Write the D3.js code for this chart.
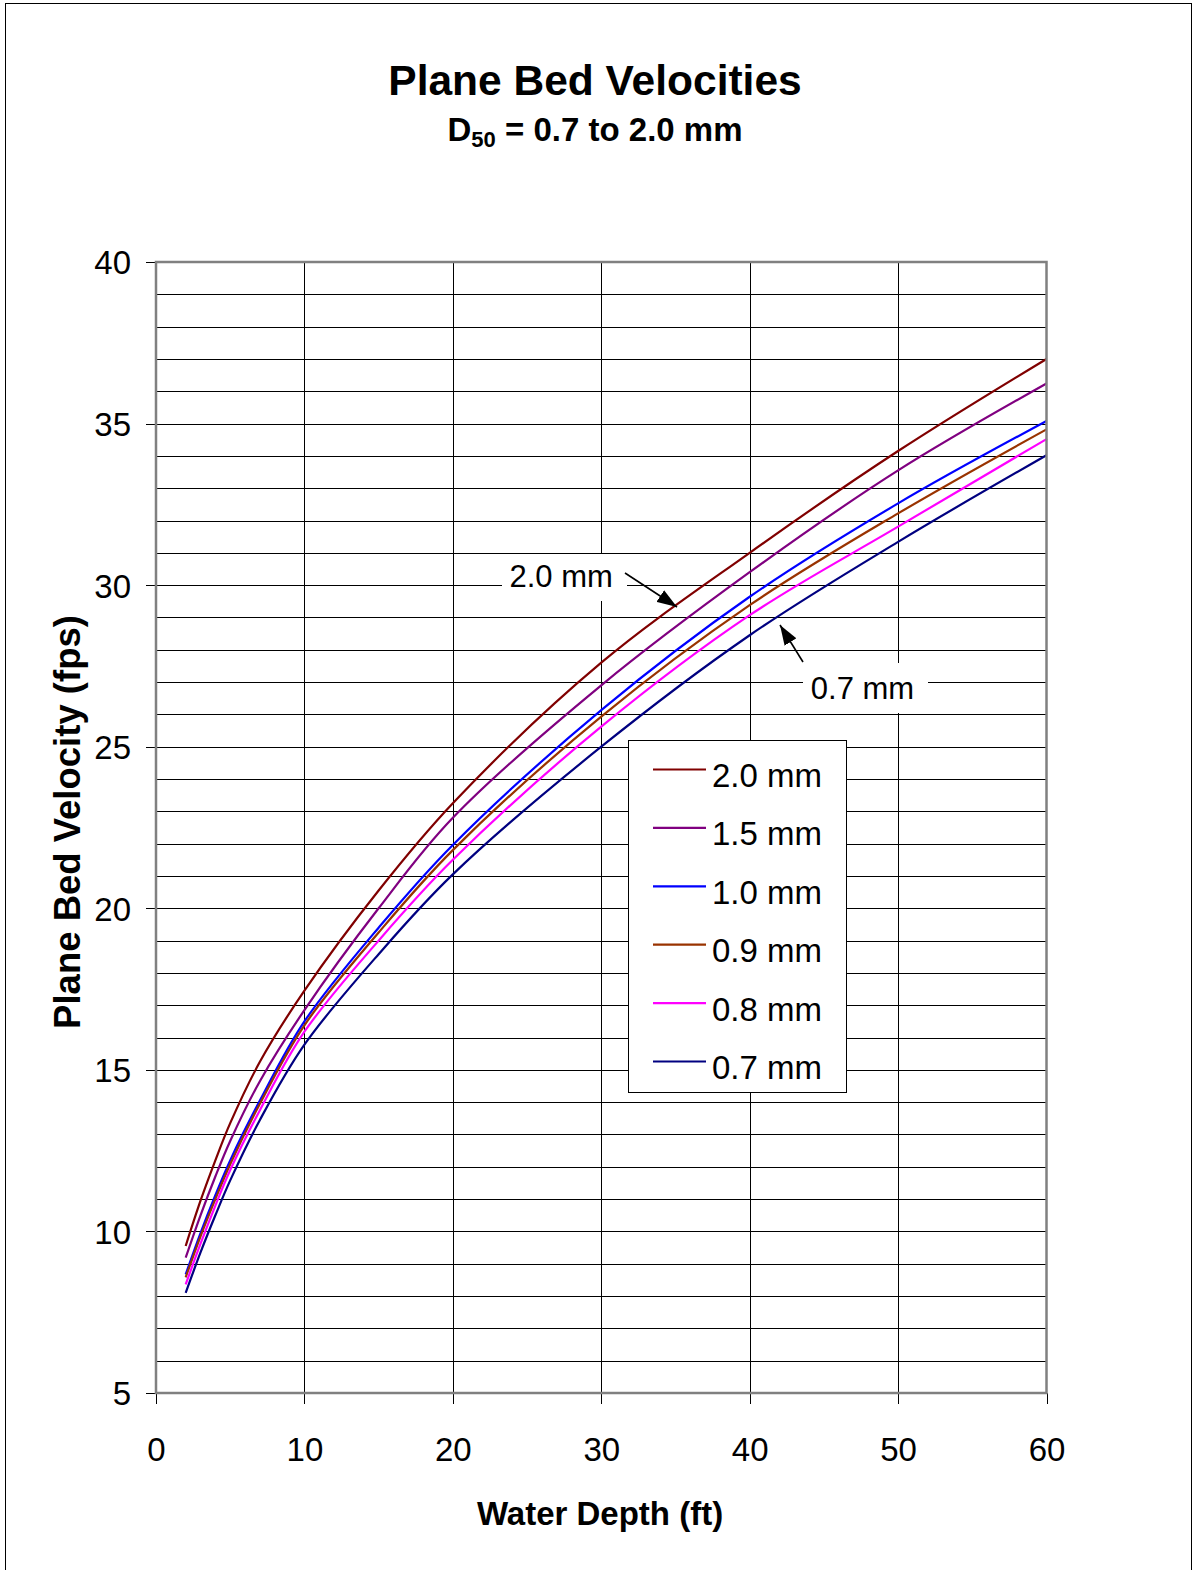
<!DOCTYPE html>
<html>
<head>
<meta charset="utf-8">
<script src="https://cdn.jsdelivr.net/npm/d3@7.9.0/dist/d3.min.js"></script>
<style>
  html, body { margin: 0; padding: 0; background: #fff; }
  svg { display: block; font-family: "Liberation Sans", Arial, sans-serif; }
</style>
</head>
<body>
<svg id="chart" width="1193" height="1570"></svg>
<script>
const depths = [2, 3, 4, 5, 7, 10, 15, 20, 30, 40, 50, 60];

const v20mm = [9.55, 10.95, 12.2, 13.35, 15.25, 17.45, 20.55, 23.25, 27.6, 31.0, 34.15, 37.0];
const v15mm = [9.19, 10.5, 11.7, 12.8, 14.65, 16.85, 20.0, 22.8, 26.9, 30.4, 33.55, 36.24];
const v10mm = [8.67, 9.95, 11.12, 12.2, 14.05, 16.5, 19.4, 21.96, 26.13, 29.64, 32.53, 35.08];
const v09mm = [8.58, 9.85, 11.0, 12.08, 13.95, 16.38, 19.25, 21.8, 25.93, 29.38, 32.22, 34.82];
const v08mm = [8.36, 9.62, 10.8, 11.9, 13.75, 16.18, 19.0, 21.5, 25.62, 29.07, 31.81, 34.52];
const v07mm = [8.1, 9.35, 10.5, 11.58, 13.45, 15.78, 18.58, 21.05, 25.0, 28.45, 31.34, 34.02];

const seriesNames = ['2.0 mm', '1.5 mm', '1.0 mm', '0.9 mm', '0.8 mm', '0.7 mm'];
const seriesValues = [v20mm, v15mm, v10mm, v09mm, v08mm, v07mm];
const seriesColors = ['#800000', '#800080', '#0000ff', '#993300', '#ff00ff', '#000080'];

const xTicks = [0, 10, 20, 30, 40, 50, 60];
const yTicks = [5, 10, 15, 20, 25, 30, 35, 40];

const svg = d3.select('#chart');

// outer frame
svg.append('rect')
  .attr('x', 5.5).attr('y', 3.5)
  .attr('width', 1186).attr('height', 1600)
  .attr('fill', '#fff').attr('stroke', '#000').attr('stroke-width', 1);

const x = d3.scaleLinear().domain([0, 60]).range([156, 1046.5]);
const y = d3.scaleLinear().domain([5, 40]).range([1393, 262]);

// gridlines
const grid = svg.append('g').attr('shape-rendering', 'crispEdges');
grid.selectAll('line.h')
  .data(d3.range(6, 40))
  .join('line')
  .attr('x1', x(0)).attr('x2', x(60))
  .attr('y1', (d) => Math.round(y(d)) + 0.5).attr('y2', (d) => Math.round(y(d)) + 0.5)
  .attr('stroke', '#000').attr('stroke-width', 1);
grid.selectAll('line.v')
  .data([10, 20, 30, 40, 50])
  .join('line')
  .attr('y1', y(5)).attr('y2', y(40))
  .attr('x1', (d) => Math.round(x(d)) + 0.5).attr('x2', (d) => Math.round(x(d)) + 0.5)
  .attr('stroke', '#000').attr('stroke-width', 1);

// axes with ticks
const yAxis = d3.axisLeft(y).tickValues(yTicks).tickSize(10).tickPadding(15);
const xAxis = d3.axisBottom(x).tickValues(xTicks).tickSize(11).tickPadding(32);

const gy = svg.append('g').attr('transform', `translate(${x(0)},0)`).call(yAxis);
const gx = svg.append('g').attr('transform', `translate(0,${y(5)})`).call(xAxis);
[gx, gy].forEach((g) => {
  g.select('.domain').remove();
  g.selectAll('.tick line').attr('stroke', '#000').attr('shape-rendering', 'crispEdges');
  g.selectAll('.tick text')
    .attr('font-size', 33).attr('fill', '#000')
    .attr('font-family', '"Liberation Sans", Arial, sans-serif');
});
gy.selectAll('.tick text').attr('dy', '0.36em');
gx.selectAll('.tick text').attr('dy', '0.75em');

// annotation label backgrounds (hide gridlines)
const notes = [
  { label: '2.0 mm', tx: 27.3, ty: 29.94, box: [502, 554, 125, 47], from: [625, 573], to: [677, 607] },
  { label: '0.7 mm', tx: 47.6, ty: 26.47, box: [803, 663, 125, 50], from: [803, 662], to: [780, 625] }
];
svg.selectAll('rect.note')
  .data(notes)
  .join('rect')
  .attr('x', (d) => d.box[0]).attr('y', (d) => d.box[1])
  .attr('width', (d) => d.box[2]).attr('height', (d) => d.box[3])
  .attr('fill', '#fff');

// curves
const line = d3.line()
  .x((d, i) => x(depths[i]))
  .y((d) => y(d))
  .curve(d3.curveCatmullRom.alpha(0.5));

svg.append('g')
  .selectAll('path')
  .data(seriesValues)
  .join('path')
  .attr('d', (d) => line(d))
  .attr('fill', 'none')
  .attr('stroke', (d, i) => seriesColors[i])
  .attr('stroke-width', 2.2)
  .attr('stroke-linejoin', 'round');

// plot border
svg.append('rect')
  .attr('x', x(0)).attr('y', y(40))
  .attr('width', x(60) - x(0)).attr('height', y(5) - y(40))
  .attr('fill', 'none').attr('stroke', '#808080').attr('stroke-width', 2.5);

// arrows
svg.append('defs').append('marker')
  .attr('id', 'arrow')
  .attr('viewBox', '0 0 20 14')
  .attr('refX', 20).attr('refY', 7)
  .attr('markerWidth', 20).attr('markerHeight', 14)
  .attr('markerUnits', 'userSpaceOnUse')
  .attr('orient', 'auto')
  .append('path')
  .attr('d', 'M0,0 L20,7 L0,14 Z')
  .attr('fill', '#000');

svg.selectAll('line.arrow')
  .data(notes)
  .join('line')
  .attr('x1', (d) => d.from[0]).attr('y1', (d) => d.from[1])
  .attr('x2', (d) => d.to[0]).attr('y2', (d) => d.to[1])
  .attr('stroke', '#000').attr('stroke-width', 1.6)
  .attr('marker-end', 'url(#arrow)');

svg.selectAll('text.note')
  .data(notes)
  .join('text')
  .attr('x', (d) => x(d.tx)).attr('y', (d) => y(d.ty))
  .attr('text-anchor', 'middle')
  .attr('font-size', 31)
  .text((d) => d.label);

// legend
const legend = svg.append('g').attr('transform', 'translate(628,740)');
legend.append('rect')
  .attr('x', 0.5).attr('y', 0.5)
  .attr('width', 218).attr('height', 352)
  .attr('fill', '#fff').attr('stroke', '#000').attr('stroke-width', 1)
  .attr('shape-rendering', 'crispEdges');
seriesNames.forEach((name, i) => {
  const ly = 29.5 + i * 58.4;
  legend.append('line')
    .attr('x1', 25).attr('x2', 78)
    .attr('y1', ly).attr('y2', ly)
    .attr('stroke', seriesColors[i]).attr('stroke-width', 2.2);
  legend.append('text')
    .attr('x', 84).attr('y', ly + 17.5)
    .attr('font-size', 33)
    .text(name);
});

// titles
svg.append('text')
  .attr('x', 595).attr('y', 95)
  .attr('text-anchor', 'middle')
  .attr('font-size', 42.5).attr('font-weight', 'bold')
  .text('Plane Bed Velocities');

const sub = svg.append('text')
  .attr('x', 595).attr('y', 141)
  .attr('text-anchor', 'middle')
  .attr('font-size', 33).attr('font-weight', 'bold');
sub.append('tspan').text('D');
sub.append('tspan').attr('font-size', 22).attr('dy', 6).text('50');
sub.append('tspan').attr('dy', -6).text(' = 0.7 to 2.0 mm');

svg.append('text')
  .attr('x', 600).attr('y', 1525)
  .attr('text-anchor', 'middle')
  .attr('font-size', 33).attr('font-weight', 'bold')
  .text('Water Depth (ft)');

svg.append('text')
  .attr('transform', 'translate(80,822) rotate(-90)')
  .attr('text-anchor', 'middle')
  .attr('font-size', 36.5).attr('font-weight', 'bold')
  .text('Plane Bed Velocity (fps)');
</script>
</body>
</html>
